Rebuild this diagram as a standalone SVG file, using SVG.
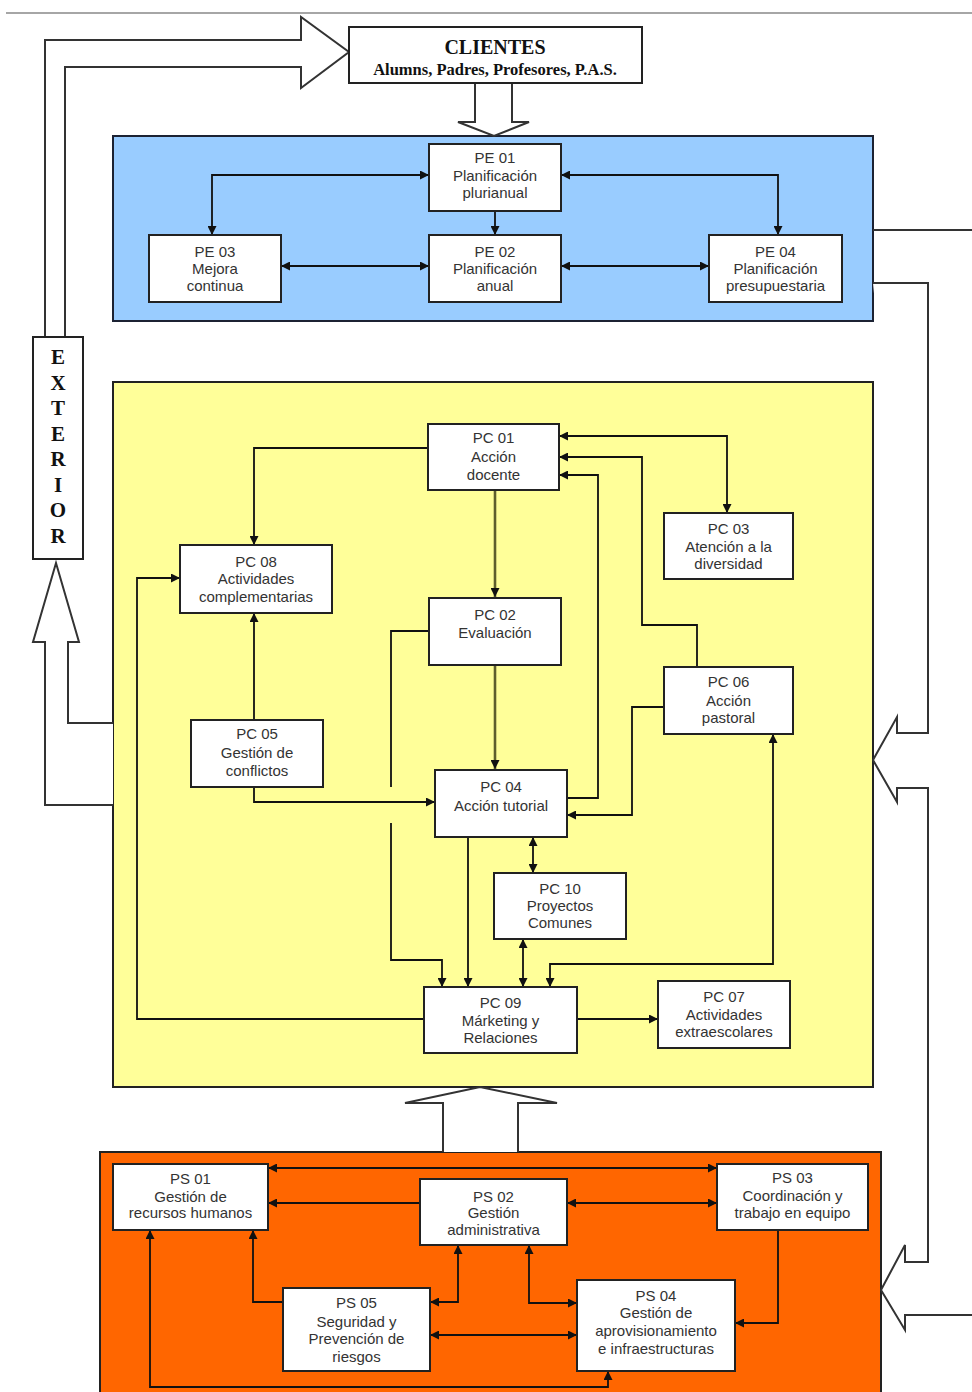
<svg xmlns="http://www.w3.org/2000/svg" width="972" height="1392" viewBox="0 0 972 1392">
<defs>
<marker id="ah" viewBox="0 0 10 10" refX="10" refY="5" markerWidth="10" markerHeight="9" markerUnits="userSpaceOnUse" orient="auto-start-reverse"><path d="M0,0 L10,5 L0,10 z" fill="#111"/></marker>
<style>
.box{fill:#fff;stroke:#222;stroke-width:2}
.t{font-family:"Liberation Sans",Arial,sans-serif;font-size:15px;fill:#333;text-anchor:middle}
.c{fill:none;stroke:#111;stroke-width:1.8}
.ol{fill:none;stroke:#5e5e2c;stroke-width:2.6}
.big{fill:#fff;stroke:#333;stroke-width:2}
.bigl{fill:none;stroke:#333;stroke-width:2}
.ser{font-family:"Liberation Serif","Times New Roman",serif;font-weight:bold;fill:#111;text-anchor:middle}
</style>
</defs>
<rect x="0" y="0" width="972" height="1392" fill="#fff"/>
<line x1="6" y1="13" x2="972" y2="13" stroke="#888" stroke-width="1.5"/>

<!-- containers -->
<g id="zona-estrategicos"><rect x="113" y="136" width="760" height="185" fill="#99CCFF" stroke="#1c2233" stroke-width="2"/></g>
<g id="zona-clave"><rect x="113" y="382" width="760" height="705" fill="#FFFF99" stroke="#222" stroke-width="2"/></g>
<g id="zona-soporte"><rect x="100" y="1152" width="781" height="260" fill="#FF6600" stroke="#222" stroke-width="2"/></g>

<!-- big hollow arrows -->
<g id="flechas-grandes">
<path class="big" d="M45,337 L45,40 L301,40 L301,17 L349,52 L301,88 L301,67 L65,67 L65,337"/>
<path class="big" d="M113,805 L45,805 L45,642 L33,642 L56,563 L79,642 L68,642 L68,723 L113,723"/>
<path class="big" d="M475,83 L475,122 L458,122 L494,136 L529,122 L512,122 L512,83"/>
<path class="big" d="M443,1152 L443,1103 L405,1103 L480,1087 L557,1103 L518,1103 L518,1152"/>
<path class="bigl" d="M873,230 L972,230"/>
<path class="big" d="M873,283 L928,283 L928,733 L897,733 L897,717 L873,760 L897,802 L897,788 L928,788 L928,1262 L905,1262 L905,1245 L881,1290 L905,1330 L905,1315 L972,1315"/>
</g>

<g id="exterior">
<rect x="33" y="337" width="50" height="222" fill="#fff" stroke="#222" stroke-width="2"/>
<text class="ser" font-size="21"><tspan x="58" y="364">E</tspan><tspan x="58" y="390">X</tspan><tspan x="58" y="415">T</tspan><tspan x="58" y="441">E</tspan><tspan x="58" y="466">R</tspan><tspan x="58" y="492">I</tspan><tspan x="58" y="517">O</tspan><tspan x="58" y="543">R</tspan></text>
</g>

<g id="clientes">
<rect x="349" y="27" width="293" height="56" fill="#fff" stroke="#222" stroke-width="2"/>
<text class="ser" x="495" y="54" font-size="20">CLIENTES</text>
<text class="ser" x="495" y="75" font-size="16.5">Alumns, Padres, Profesores, P.A.S.</text>
</g>

<!-- connectors -->
<g id="connectors">
<path class="c" d="M429,175 L212,175 L212,235" marker-start="url(#ah)" marker-end="url(#ah)"/>
<path class="c" d="M561,175 L778,175 L778,235" marker-start="url(#ah)" marker-end="url(#ah)"/>
<path class="c" d="M495,211 L495,235" marker-end="url(#ah)"/>
<path class="c" d="M281,266 L429,266" marker-start="url(#ah)" marker-end="url(#ah)"/>
<path class="c" d="M561,266 L709,266" marker-start="url(#ah)" marker-end="url(#ah)"/>

<path class="c" d="M428,448 L254,448 L254,545" marker-end="url(#ah)"/>
<path class="ol" d="M495,490 L495,597" marker-end="url(#ah)"/>
<path class="ol" d="M495,665 L495,769" marker-end="url(#ah)"/>
<path class="c" d="M727,513 L727,436 L559,436" marker-start="url(#ah)" marker-end="url(#ah)"/>
<path class="c" d="M697,667 L697,625 L642,625 L642,457 L559,457" marker-end="url(#ah)"/>
<path class="c" d="M567,798 L598,798 L598,475 L559,475" marker-end="url(#ah)"/>
<path class="c" d="M664,707 L632,707 L632,815 L567,815" marker-end="url(#ah)"/>
<path class="c" d="M254,720 L254,613" marker-end="url(#ah)"/>
<path class="c" d="M254,787 L254,802 L435,802" marker-end="url(#ah)"/>
<path class="c" d="M429,631 L391,631 L391,787"/>
<path class="c" d="M391,823 L391,960 L442,960 L442,987" marker-end="url(#ah)"/>
<path class="c" d="M468,837 L468,987" marker-end="url(#ah)"/>
<path class="c" d="M533,837 L533,873" marker-start="url(#ah)" marker-end="url(#ah)"/>
<path class="c" d="M523,939 L523,987" marker-start="url(#ah)" marker-end="url(#ah)"/>
<path class="c" d="M773,734 L773,964 L550,964 L550,987" marker-start="url(#ah)" marker-end="url(#ah)"/>
<path class="c" d="M577,1019 L658,1019" marker-end="url(#ah)"/>
<path class="c" d="M424,1019 L137,1019 L137,578 L180,578" marker-end="url(#ah)"/>

<path class="c" d="M268,1168 L717,1168" marker-start="url(#ah)" marker-end="url(#ah)"/>
<path class="c" d="M420,1203 L268,1203" marker-end="url(#ah)"/>
<path class="c" d="M567,1203 L717,1203" marker-start="url(#ah)" marker-end="url(#ah)"/>
<path class="c" d="M283,1302 L253,1302 L253,1230" marker-end="url(#ah)"/>
<path class="c" d="M458,1245 L458,1302 L430,1302" marker-start="url(#ah)" marker-end="url(#ah)"/>
<path class="c" d="M529,1245 L529,1303 L577,1303" marker-start="url(#ah)" marker-end="url(#ah)"/>
<path class="c" d="M430,1335 L577,1335" marker-start="url(#ah)" marker-end="url(#ah)"/>
<path class="c" d="M778,1230 L778,1323 L735,1323" marker-end="url(#ah)"/>
<path class="c" d="M150,1230 L150,1387 L608,1387 L608,1371" marker-start="url(#ah)" marker-end="url(#ah)"/>
</g>

<!-- PE nodes -->
<g id="PE01"><rect class="box" x="429" y="144" width="132" height="67"/><text class="t"><tspan x="495" y="163">PE 01</tspan><tspan x="495" y="181">Planificación</tspan><tspan x="495" y="198">plurianual</tspan></text></g>
<g id="PE03"><rect class="box" x="149" y="235" width="132" height="67"/><text class="t"><tspan x="215" y="257">PE 03</tspan><tspan x="215" y="274">Mejora</tspan><tspan x="215" y="291">continua</tspan></text></g>
<g id="PE02"><rect class="box" x="429" y="235" width="132" height="67"/><text class="t"><tspan x="495" y="257">PE 02</tspan><tspan x="495" y="274">Planificación</tspan><tspan x="495" y="291">anual</tspan></text></g>
<g id="PE04"><rect class="box" x="709" y="235" width="133" height="67"/><text class="t"><tspan x="775.5" y="257">PE 04</tspan><tspan x="775.5" y="274">Planificación</tspan><tspan x="775.5" y="291">presupuestaria</tspan></text></g>

<!-- PC nodes -->
<g id="PC01"><rect class="box" x="428" y="424" width="131" height="66"/><text class="t"><tspan x="493.5" y="443">PC 01</tspan><tspan x="493.5" y="462">Acción</tspan><tspan x="493.5" y="480">docente</tspan></text></g>
<g id="PC08"><rect class="box" x="180" y="545" width="152" height="68"/><text class="t"><tspan x="256" y="567">PC 08</tspan><tspan x="256" y="584">Actividades</tspan><tspan x="256" y="602">complementarias</tspan></text></g>
<g id="PC03"><rect class="box" x="664" y="513" width="129" height="66"/><text class="t"><tspan x="728.5" y="534">PC 03</tspan><tspan x="728.5" y="552">Atención a la</tspan><tspan x="728.5" y="569">diversidad</tspan></text></g>
<g id="PC02"><rect class="box" x="429" y="598" width="132" height="67"/><text class="t"><tspan x="495" y="620">PC 02</tspan><tspan x="495" y="638">Evaluación</tspan></text></g>
<g id="PC06"><rect class="box" x="664" y="667" width="129" height="67"/><text class="t"><tspan x="728.5" y="687">PC 06</tspan><tspan x="728.5" y="706">Acción</tspan><tspan x="728.5" y="723">pastoral</tspan></text></g>
<g id="PC05"><rect class="box" x="191" y="720" width="132" height="67"/><text class="t"><tspan x="257" y="739">PC 05</tspan><tspan x="257" y="758">Gestión de</tspan><tspan x="257" y="776">conflictos</tspan></text></g>
<g id="PC04"><rect class="box" x="435" y="770" width="132" height="67"/><text class="t"><tspan x="501" y="792">PC 04</tspan><tspan x="501" y="811">Acción tutorial</tspan></text></g>
<g id="PC10"><rect class="box" x="494" y="873" width="132" height="66"/><text class="t"><tspan x="560" y="894">PC 10</tspan><tspan x="560" y="911">Proyectos</tspan><tspan x="560" y="928">Comunes</tspan></text></g>
<g id="PC09"><rect class="box" x="424" y="987" width="153" height="66"/><text class="t"><tspan x="500.5" y="1008">PC 09</tspan><tspan x="500.5" y="1026">Márketing y</tspan><tspan x="500.5" y="1043">Relaciones</tspan></text></g>
<g id="PC07"><rect class="box" x="658" y="981" width="132" height="67"/><text class="t"><tspan x="724" y="1002">PC 07</tspan><tspan x="724" y="1020">Actividades</tspan><tspan x="724" y="1037">extraescolares</tspan></text></g>

<!-- PS nodes -->
<g id="PS01"><rect class="box" x="113" y="1164" width="155" height="66"/><text class="t"><tspan x="190.5" y="1184">PS 01</tspan><tspan x="190.5" y="1202">Gestión de</tspan><tspan x="190.5" y="1218">recursos humanos</tspan></text></g>
<g id="PS02"><rect class="box" x="420" y="1179" width="147" height="66"/><text class="t"><tspan x="493.5" y="1202">PS 02</tspan><tspan x="493.5" y="1218">Gestión</tspan><tspan x="493.5" y="1235">administrativa</tspan></text></g>
<g id="PS03"><rect class="box" x="717" y="1164" width="151" height="66"/><text class="t"><tspan x="792.5" y="1183">PS 03</tspan><tspan x="792.5" y="1201">Coordinación y</tspan><tspan x="792.5" y="1218">trabajo en equipo</tspan></text></g>
<g id="PS05"><rect class="box" x="283" y="1288" width="147" height="83"/><text class="t"><tspan x="356.5" y="1308">PS 05</tspan><tspan x="356.5" y="1327">Seguridad y</tspan><tspan x="356.5" y="1344">Prevención de</tspan><tspan x="356.5" y="1362">riesgos</tspan></text></g>
<g id="PS04"><rect class="box" x="577" y="1280" width="158" height="91"/><text class="t"><tspan x="656" y="1301">PS 04</tspan><tspan x="656" y="1318">Gestión de</tspan><tspan x="656" y="1336">aprovisionamiento</tspan><tspan x="656" y="1354">e infraestructuras</tspan></text></g>
</svg>
